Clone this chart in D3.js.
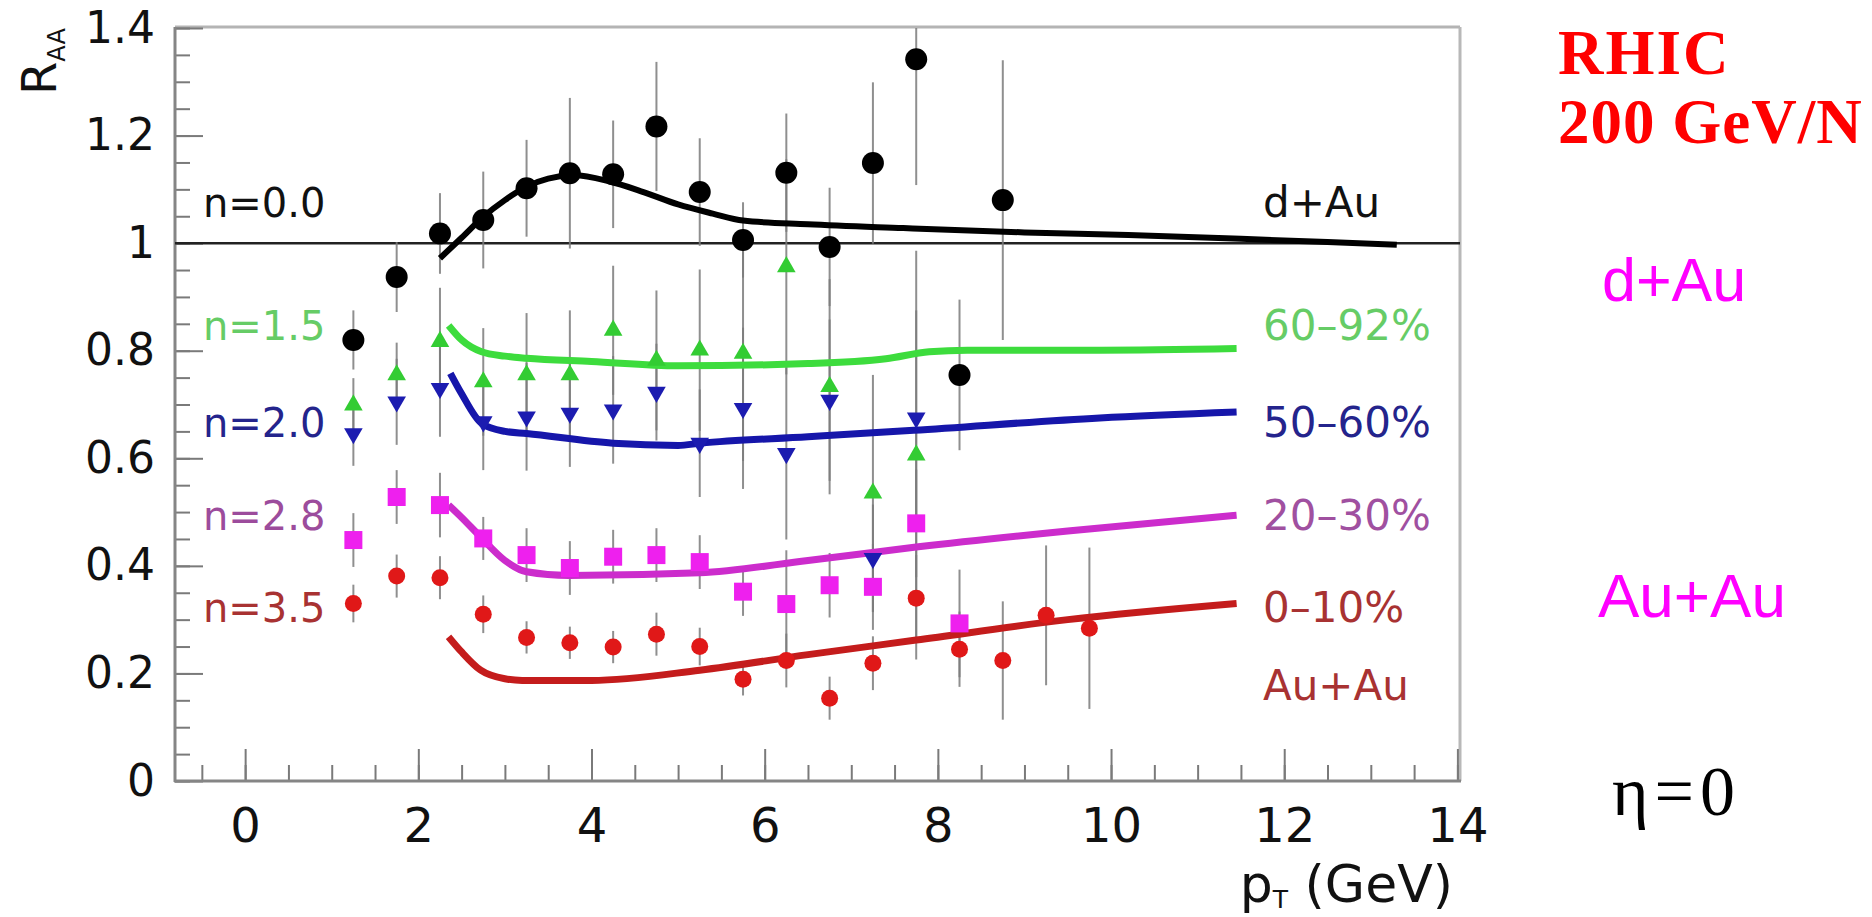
<html>
<head>
<meta charset="utf-8">
<script src="https://d3js.org/d3.v7.min.js"></script>
<style>
  body { margin: 0; background: #fff; }
</style>
</head>
<body>
<svg id="page"></svg>
<script>

// ---- data (pT bin centres, R_AA values, error half-widths) ----
var ptDAu   = [1.25,1.75,2.25,2.75,3.25,3.75,4.25,4.75,5.25,5.75,6.25,6.75,7.25,7.75,8.25,8.75];
var rDAu    = [0.82,0.937,1.018,1.043,1.102,1.13,1.128,1.217,1.095,1.006,1.131,0.993,1.149,1.342,0.755,1.08];
var eDAu    = [0.055,0.065,0.075,0.09,0.09,0.14,0.1,0.12,0.1,0.07,0.11,0.11,0.15,0.234,0.14,0.26];

var pt6092  = [1.25,1.75,2.25,2.75,3.25,3.75,4.25,4.75,5.25,5.75,6.25,6.75,7.25,7.75];
var r6092   = [0.699,0.755,0.817,0.742,0.755,0.755,0.838,0.782,0.801,0.795,0.956,0.733,0.535,0.606];
var e6092   = [0.05,0.06,0.1,0.1,0.115,0.12,0.12,0.13,0.15,0.2,0.2,0.2,0.22,0.38];

var pt5060  = [1.25,1.75,2.25,2.75,3.25,3.75,4.25,4.75,5.25,5.75,6.25,6.75,7.25,7.75];
var r5060   = [0.646,0.705,0.73,0.668,0.677,0.684,0.69,0.723,0.628,0.693,0.609,0.708,0.414,0.675];
var e5060   = [0.06,0.08,0.09,0.09,0.1,0.1,0.1,0.09,0.1,0.15,0.16,0.15,0.1,0.2];

var pt2030  = [1.25,1.75,2.25,2.75,3.25,3.75,4.25,4.75,5.25,5.75,6.25,6.75,7.25,7.75,8.25];
var r2030   = [0.448,0.528,0.513,0.451,0.42,0.396,0.417,0.42,0.407,0.352,0.329,0.364,0.361,0.479,0.293];
var e2030   = [0.05,0.05,0.06,0.04,0.05,0.05,0.05,0.05,0.05,0.045,0.1,0.06,0.08,0.1,0.1];

var pt010   = [1.25,1.75,2.25,2.75,3.25,3.75,4.25,4.75,5.25,5.75,6.25,6.75,7.25,7.75,8.25,8.75,9.25,9.75];
var r010    = [0.33,0.381,0.378,0.31,0.267,0.257,0.249,0.273,0.25,0.189,0.224,0.154,0.219,0.34,0.245,0.224,0.308,0.284];
var e010    = [0.035,0.04,0.04,0.035,0.03,0.03,0.03,0.04,0.035,0.03,0.05,0.04,0.05,0.08,0.07,0.11,0.13,0.15];

// model curves (pT, R_AA)
var curveDAu  = [[2.25,0.972],[2.5,1.01],[2.75,1.049],[3.0,1.08],[3.25,1.105],[3.5,1.12],[3.8,1.126],[4.2,1.115],[4.6,1.095],[5.0,1.072],[5.4,1.055],[5.75,1.042],[6.5,1.035],[7.6,1.028],[9.0,1.02],[10.2,1.015],[11.5,1.008],[12.5,1.002],[13.3,0.997]];
var curve6092 = [[2.35,0.847],[2.5,0.82],[2.73,0.798],[3.0,0.79],[3.25,0.786],[4.0,0.78],[5.0,0.772],[6.5,0.776],[7.4,0.785],[7.9,0.798],[8.34,0.801],[9.87,0.801],[11.45,0.804]];
var curve5060 = [[2.37,0.758],[2.5,0.72],[2.73,0.665],[3.0,0.65],[3.25,0.646],[4.25,0.628],[5.0,0.624],[5.26,0.628],[6.5,0.64],[7.72,0.652],[9.87,0.675],[11.45,0.686]];
var curve2030 = [[2.35,0.513],[2.5,0.49],[2.7,0.457],[3.0,0.41],[3.25,0.389],[3.74,0.382],[5.25,0.387],[6.5,0.41],[7.75,0.435],[9.5,0.465],[11.45,0.494]];
var curve010  = [[2.35,0.268],[2.5,0.24],[2.72,0.206],[3.0,0.19],[3.2,0.187],[4.0,0.187],[5.25,0.206],[6.5,0.235],[7.75,0.262],[9.5,0.3],[11.45,0.33]];

// tick labels
var xTicks = [0,2,4,6,8,10,12,14];
var yTicks = [0,0.2,0.4,0.6,0.8,1,1.2,1.4];

// labels inside the frame (text, baseline R value)
var leftLabels  = ["n=0.0","n=1.5","n=2.0","n=2.8","n=3.5"];
var rightLabels = ["d+Au","60–92%","50–60%","20–30%","0–10%","Au+Au"];
var labelR      = [1.048,0.82,0.639,0.466,0.295,0.15];

var SANS = "DejaVu Sans, sans-serif";

// ---- canvas ----
var svg = d3.select("#page").attr("width",1872).attr("height",917);
svg.append("rect").attr("width",1872).attr("height",917).attr("fill","#fff");

var x = d3.scaleLinear().domain([-0.81,14.03]).range([175,1460]);
var y = d3.scaleLinear().domain([0,1.4]).range([781,28]);

svg.append("clipPath").attr("id","clip")
  .append("rect").attr("x",175).attr("y",28).attr("width",1285).attr("height",753);

// frame (top / right lighter)
svg.append("line").attr("x1",175).attr("x2",1460).attr("y1",27).attr("y2",27).attr("stroke","#b4b4b4").attr("stroke-width",3);
svg.append("line").attr("x1",1460).attr("x2",1460).attr("y1",27).attr("y2",781).attr("stroke","#b8b8b8").attr("stroke-width",3);

// axes: minor and major ticks pointing inwards
var xMinor = d3.range(-0.5,14.01,0.5);
var yMinor = d3.range(0,1.401,0.05);

svg.append("g").attr("transform","translate(0,781)")
  .call(d3.axisBottom(x).tickValues(xMinor).tickSize(-16).tickFormat(""))
  .call(g => g.select(".domain").remove());
var gx = svg.append("g").attr("transform","translate(0,781)")
  .call(d3.axisBottom(x).tickValues(xTicks).tickSize(-32).tickPadding(27).tickFormat(d3.format("d")));
gx.select(".domain").remove();
gx.selectAll("text").attr("font-size",48).attr("fill","#111").style("font-family",SANS);

svg.append("g").attr("transform","translate(175,0)")
  .call(d3.axisLeft(y).tickValues(yMinor).tickSize(-15).tickFormat(""))
  .call(g => g.select(".domain").remove());
var gy = svg.append("g").attr("transform","translate(175,0)")
  .call(d3.axisLeft(y).tickValues(yTicks).tickSize(-28).tickPadding(20).tickFormat(d => String(+d.toFixed(1))));
gy.select(".domain").remove();
gy.selectAll("text").attr("font-size",44).attr("fill","#111").style("font-family",SANS);

svg.selectAll(".tick line").attr("stroke","#7a7a7a").attr("stroke-width",2);

svg.append("line").attr("x1",175).attr("x2",175).attr("y1",27).attr("y2",782).attr("stroke","#858585").attr("stroke-width",3);
svg.append("line").attr("x1",174).attr("x2",1461).attr("y1",781).attr("y2",781).attr("stroke","#858585").attr("stroke-width",3);

// axis titles
var rt = svg.append("text").attr("transform","translate(56,95) rotate(-90)")
  .style("font-family",SANS).attr("font-size",48).attr("fill","#111").text("R");
rt.append("tspan").attr("dy",9).attr("font-size",24).text("AA");

var pt = svg.append("text").attr("x",1453).attr("y",902).attr("text-anchor","end")
  .style("font-family",SANS).attr("font-size",52).attr("fill","#111").text("p");
pt.append("tspan").attr("dy",6).attr("font-size",25).text("T");
pt.append("tspan").attr("dy",-6).text(" (GeV)");

var plot = svg.append("g").attr("clip-path","url(#clip)");

// y = 1 reference line
plot.append("line").attr("x1",175).attr("x2",1460).attr("y1",y(1)).attr("y2",y(1))
  .attr("stroke","#222").attr("stroke-width",2.5);

var series = [
  {pt: pt010,  r: r010,  e: e010,  curve: curve010,  mark: "rcircle",  fill: "#e01818", line: "#c41c1c", lw: 7},
  {pt: pt2030, r: r2030, e: e2030, curve: curve2030, mark: "square",   fill: "#ee20ee", line: "#cc2ccc", lw: 7},
  {pt: pt5060, r: r5060, e: e5060, curve: curve5060, mark: "tdown",    fill: "#1c1cb0", line: "#1616aa", lw: 7},
  {pt: pt6092, r: r6092, e: e6092, curve: curve6092, mark: "tup",      fill: "#33cc33", line: "#3ddc3d", lw: 7},
  {pt: ptDAu,  r: rDAu,  e: eDAu,  curve: curveDAu,  mark: "circle",   fill: "#000000", line: "#000000", lw: 6}
];

// error bars first
series.forEach(function(s){
  plot.append("g").selectAll("line").data(s.pt).join("line")
    .attr("x1",(d)=>x(d)).attr("x2",(d)=>x(d))
    .attr("y1",(d,i)=>y(s.r[i]+s.e[i])).attr("y2",(d,i)=>y(s.r[i]-s.e[i]))
    .attr("stroke","#7c7c7c").attr("stroke-width",2).attr("opacity",0.85);
});

// model curves
var lineGen = d3.line().x(d=>x(d[0])).y(d=>y(d[1])).curve(d3.curveMonotoneX);
series.forEach(function(s){
  plot.append("path").datum(s.curve).attr("d",lineGen)
    .attr("fill","none").attr("stroke",s.line).attr("stroke-width",s.lw)
    .attr("stroke-linecap","butt");
});

// markers
var symbols = {
  circle:  d3.symbol().type(d3.symbolCircle).size(Math.PI*11*11),
  rcircle: d3.symbol().type(d3.symbolCircle).size(Math.PI*8.5*8.5),
  square:  d3.symbol().type(d3.symbolSquare).size(18*18),
  tup:     d3.symbol().type(d3.symbolTriangle).size(150),
  tdown:   d3.symbol().type(d3.symbolTriangle).size(150)
};
series.forEach(function(s){
  plot.append("g").selectAll("path").data(s.pt).join("path")
    .attr("d",symbols[s.mark])
    .attr("transform",(d,i)=>"translate("+x(d)+","+y(s.r[i])+")"+(s.mark==="tdown"?" rotate(180)":""))
    .attr("fill",s.fill);
});

// labels in the frame
var leftColors  = ["#111111","#66cc66","#24248c","#9c4c9c","#a83232"];
var rightColors = ["#111111","#66cc66","#24248c","#a050a0","#a83232","#a83232"];
svg.append("g").selectAll("text").data(leftLabels).join("text")
  .attr("x",203).attr("y",(d,i)=>y(labelR[i])).style("font-family",SANS)
  .attr("font-size",40).attr("fill",(d,i)=>leftColors[i]).text(d=>d);
svg.append("g").selectAll("text").data(rightLabels).join("text")
  .attr("x",1263).attr("y",(d,i)=>y(labelR[i])).style("font-family",SANS)
  .attr("font-size",42).attr("fill",(d,i)=>rightColors[i]).text(d=>d);

// annotations on the right
svg.append("text").attr("x",1558).attr("y",74).style("font-family","Liberation Serif, serif")
  .attr("font-weight","bold").attr("font-size",63).attr("letter-spacing",2).attr("fill","#ff0000").text("RHIC");
svg.append("text").attr("x",1558).attr("y",143).style("font-family","Liberation Serif, serif")
  .attr("font-weight","bold").attr("font-size",63).attr("letter-spacing",1).attr("fill","#ff0000").text("200 GeV/N");
svg.append("text").attr("x",1602).attr("y",301).style("font-family","Liberation Sans, sans-serif")
  .attr("font-size",61).attr("fill","#ff00ff").text("d+Au");
svg.append("text").attr("x",1598).attr("y",617).style("font-family","Liberation Sans, sans-serif")
  .attr("font-size",62).attr("fill","#ff00ff").text("Au+Au");
svg.append("text").attr("x",1612).attr("y",815).style("font-family","Liberation Serif, serif")
  .attr("font-size",70).attr("letter-spacing",6).attr("fill","#000").text("η=0");

</script>
</body>
</html>
